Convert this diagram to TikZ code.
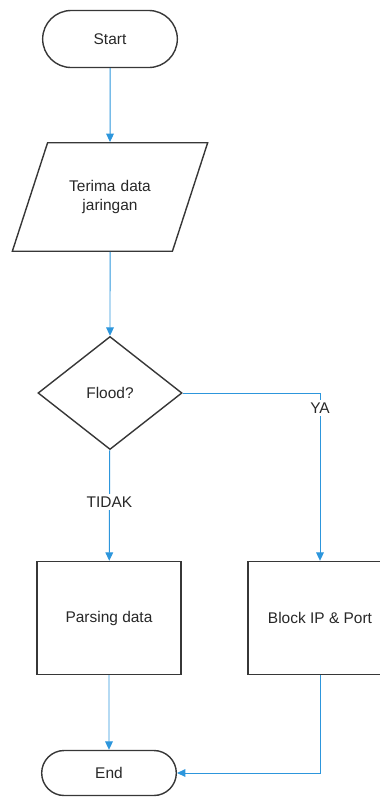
\documentclass[tikz,border=0pt]{standalone}
\usepackage{fontspec}
\setmainfont{Liberation Sans}
\definecolor{flowblue}{RGB}{45, 150, 220}
\definecolor{edgegray}{RGB}{55, 55, 55}
\definecolor{textgray}{RGB}{40, 40, 40}
\usetikzlibrary{shapes.geometric, shapes.misc, arrows.meta, positioning}

\begin{document}
\begin{tikzpicture}[
  x=0.025cm, y=-0.025cm,
  every node/.style={font=\fontsize{11}{14}\selectfont, text=textgray},
  terminal/.style={draw=edgegray, line width=1pt, rounded rectangle, minimum width=3.6cm, align=center},
  inputbox/.style={draw=edgegray, line width=1pt, trapezium, trapezium left angle=72, trapezium right angle=108, text width=3cm, inner xsep=0.06cm, inner ysep=0.93cm, align=center},
  decision/.style={draw=edgegray, line width=1pt, diamond, minimum width=3.6cm, minimum height=2.825cm, align=center},
  process/.style={draw=edgegray, line width=1pt, fill=white, minimum width=3.6cm, minimum height=2.825cm, align=center},
  flow/.style={draw=flowblue, line width=0.7pt, -{Triangle[length=6pt, width=5.5pt]}},
  lbl/.style={fill=white, inner sep=2pt}
]
  \useasboundingbox (0,0) rectangle (380,805);

  % Steps
  \node[terminal, minimum height=1.425cm] (start) at (110,39) {Start};
  \node[inputbox] (terima) at (110,197) {Terima data\\jaringan};
  \node[decision] (flood) at (110,393) {Flood?};
  \node[process] (parsing) at (109,618) {Parsing data};
  \node[process] (block) at (320,618) {Block IP \& Port};
  \node[terminal, minimum height=1.125cm] (end) at (109,773) {End};

  \draw[flow] (start) -- (terima);
  \draw[flow] (terima) -- (flood);
  \draw[flow] (flood) -- (parsing) node[lbl, pos=0.47] (tidak) {TIDAK};
  \draw[flow] (flood.east) -| (block.north) node[lbl, pos=0.545] (ya) {YA};
  \draw[flow] (parsing) -- (end);
  \draw[flow] (block.south) |- (end.east);
\end{tikzpicture}
\end{document}
